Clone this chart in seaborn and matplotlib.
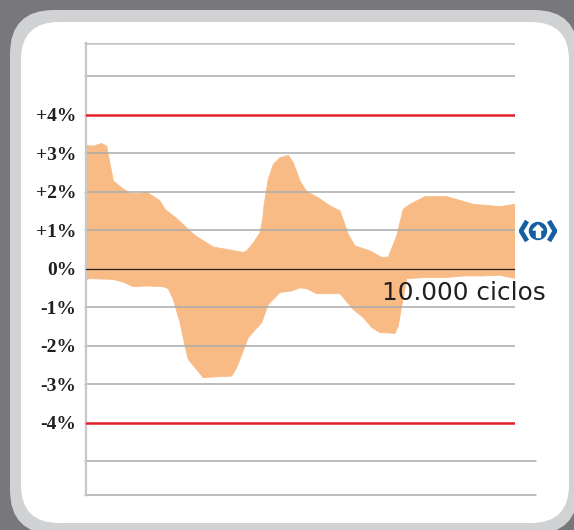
"""
Banda de desviación (%) a lo largo de 10.000 ciclos.
"""

import matplotlib
matplotlib.use("Agg")
import matplotlib.pyplot as plt
import matplotlib.transforms as mtransforms
from matplotlib.patches import FancyBboxPatch, Circle, Polygon
import seaborn as sns

# límite superior de la banda (ciclos, %)
ciclos_sup = [0, 170, 366, 483, 636, 832, 1026, 1259, 1415, 1725, 1841, 2114,
              2347, 2541, 2967, 3280, 3667, 3746, 3900, 4056, 4119, 4149, 4249,
              4366, 4522, 4716, 4832, 4988, 5145, 5415, 5688, 5921, 6114, 6270,
              6620, 6893, 7047, 7242, 7396, 7552, 7709, 7902, 8408, 8718, 9028,
              9650, 10000]
pct_sup = [3.20, 3.18, 3.25, 3.18, 2.28, 2.10, 1.95, 1.95, 1.99, 1.76, 1.54, 1.30,
           1.06, 0.86, 0.56, 0.50, 0.42, 0.46, 0.67, 0.93, 1.28, 1.63, 2.32,
           2.71, 2.88, 2.94, 2.75, 2.28, 2.00, 1.84, 1.63, 1.50, 0.89, 0.59,
           0.46, 0.29, 0.30, 0.85, 1.54, 1.67, 1.76, 1.87, 1.87, 1.77, 1.67,
           1.61, 1.67]

# límite inferior de la banda (ciclos, %)
ciclos_inf = [0, 93, 636, 869, 1103, 1415, 1802, 1918, 2035, 2191, 2308, 2385,
              2541, 2734, 3396, 3513, 3783, 4096, 4249, 4522, 4795, 4988, 5145,
              5378, 5921, 6231, 6464, 6660, 6853, 7203, 7280, 7359, 7476, 7942,
              8408, 8795, 9261, 9650, 9844, 10000]
pct_inf = [-0.28, -0.26, -0.28, -0.35, -0.47, -0.45, -0.47, -0.52, -0.80, -1.40,
           -2.01, -2.36, -2.57, -2.83, -2.79, -2.57, -1.79, -1.40, -0.93, -0.62,
           -0.58, -0.50, -0.52, -0.65, -0.65, -1.06, -1.27, -1.53, -1.66, -1.68,
           -1.49, -0.97, -0.26, -0.23, -0.23, -0.19, -0.19, -0.17, -0.22, -0.25]

ticks_y = [4, 3, 2, 1, 0, -1, -2, -3, -4]
etiquetas_y = ["+4%", "+3%", "+2%", "+1%", "0%", "-1%", "-2%", "-3%", "-4%"]
rejilla_y = [5, 3, 2, 1, -1, -2, -3]
limite = 4
texto_ciclos = "10.000 ciclos"

NARANJA = "#f9bb86"
ROJO = "#e3202a"
GRIS = "#ababab"
AZUL = "#155ea3"
TEXTO = "#231f20"

sns.set_style("white")
fig = plt.figure(figsize=(5.74, 5.30), dpi=100, facecolor="#78777c")

# marco redondeado (coordenadas en píxeles)
px = mtransforms.IdentityTransform()
fig.add_artist(FancyBboxPatch((10, -4), 568, 524, boxstyle="round,pad=0,rounding_size=44",
                              transform=px, facecolor="#d1d2d4", edgecolor="none", zorder=0))
fig.add_artist(FancyBboxPatch((21, 7), 548, 501, boxstyle="round,pad=0,rounding_size=38",
                              transform=px, facecolor="white", edgecolor="none", zorder=0))

ax = fig.add_axes([86 / 574, 1 - 495 / 530, 429 / 574, 452 / 530])
ax.set_facecolor("none")
ax.set_xlim(0, 10000)
ax.set_ylim(-5.88, 5.86)

# banda
sns.lineplot(x=ciclos_sup, y=pct_sup, color=NARANJA, lw=0.6, estimator=None, ax=ax, zorder=1)
sns.lineplot(x=ciclos_inf, y=pct_inf, color=NARANJA, lw=0.6, estimator=None, ax=ax, zorder=1)
ax.fill(ciclos_sup + ciclos_inf[::-1], pct_sup + pct_inf[::-1],
        color=NARANJA, lw=0, zorder=1)

# rejilla
for y in rejilla_y:
    ax.axhline(y, color=GRIS, lw=1.1, zorder=2)
ax.plot([0, 10490], [-5, -5], color=GRIS, lw=1.1, clip_on=False, zorder=2)
ax.plot([0, 10490], [-5.88, -5.88], color=GRIS, lw=1.1, clip_on=False, zorder=2)
ax.axhline(5.86, color="#c4c4c4", lw=1.8, zorder=2)
ax.axhline(limite, color=ROJO, lw=1.8, zorder=3)
ax.axhline(-limite, color=ROJO, lw=1.8, zorder=3)
ax.axhline(0, color=TEXTO, lw=0.9, zorder=3)

for s in ["top", "right", "bottom"]:
    ax.spines[s].set_visible(False)
ax.spines["left"].set_color("#c8c8c8")
ax.spines["left"].set_linewidth(1.6)

ax.set_xticks([])
ax.set_yticks(ticks_y + [5, -5, 5.86, -5.88])
ax.set_yticklabels(etiquetas_y + ["", "", "", ""])
ax.tick_params(axis="y", left=True, length=1.6, width=1, color=GRIS, pad=5.5)
for lab in ax.get_yticklabels():
    lab.set_fontfamily("Liberation Serif")
    lab.set_fontweight("bold")
    lab.set_fontsize(14)
    lab.set_color(TEXTO)

fig.text(382 / 574, 1 - 300 / 530, texto_ciclos, fontsize=17.8,
         family="DejaVu Sans", color=TEXTO, va="baseline", ha="left")

# icono
ic = fig.add_axes([519 / 574, 1 - 244 / 530, 38 / 574, 26 / 530])
ic.set_xlim(-19, 19)
ic.set_ylim(-13, 13)
ic.axis("off")
ic.plot([-11, -17, -11], [10, 0, -10], color=AZUL, lw=3.4, solid_joinstyle="miter",
        solid_capstyle="butt")
ic.plot([11, 17, 11], [10, 0, -10], color=AZUL, lw=3.4, solid_joinstyle="miter",
        solid_capstyle="butt")
ic.add_patch(Circle((0, 0), 8.5, color=AZUL))
ic.add_patch(Polygon([(-5, 1), (5, 1), (0, 6)], color="white"))
ic.add_patch(Polygon([(-1.6, 1), (1.6, 1), (1.6, -6), (-1.6, -6)], color="white"))

fig.savefig("out.png", dpi=100, facecolor=fig.get_facecolor())
